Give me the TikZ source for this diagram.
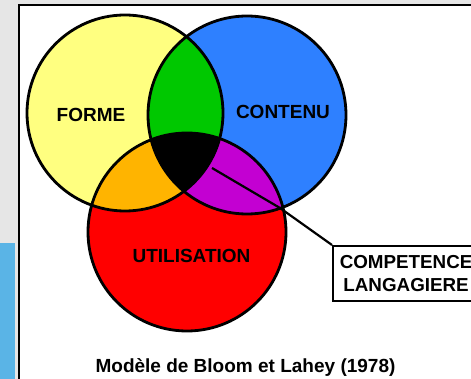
\documentclass[tikz,border=0pt]{standalone}
\usepackage{fontspec}
\setmainfont{Liberation Sans}
\definecolor{formecol}{RGB}{255,255,128}
\definecolor{contenucol}{RGB}{46,128,255}
\definecolor{usagecol}{RGB}{255,0,0}
\definecolor{vertcol}{RGB}{0,200,0}
\definecolor{orangecol}{RGB}{255,180,0}
\definecolor{violetcol}{RGB}{195,0,210}
\definecolor{fondcol}{RGB}{230,230,230}
\definecolor{barrecol}{RGB}{90,180,230}
\tikzset{
  cercle/.style={draw=black,line width=2.8pt},
  etiquette/.style={font=\bfseries\fontsize{19}{22}\selectfont},
  encadre/.style={draw=black,line width=2.2pt,fill=white,align=center,
    minimum width=146pt,minimum height=55pt,inner sep=0pt,
    font=\bfseries\fontsize{18.8}{23}\selectfont}
}
\begin{document}
\begin{tikzpicture}[x=1pt,y=-1pt]
                \useasboundingbox (0,0) rectangle (471,379);
                \clip (0,0) rectangle (471,379);
                % fond et cadre
                \fill[fondcol] (0,0) rectangle (471,379);
                \fill[barrecol] (0,243) rectangle (15,379);
                \draw[line width=2pt,fill=white] (18.5,5.5) rectangle (500,400);
                % les trois cercles
                \coordinate (forme) at (125,113);
                \coordinate (contenu) at (247,115);
                \coordinate (usage) at (187,232);
                \fill[formecol] (forme) circle (98pt);
                \fill[contenucol] (contenu) circle (99pt);
                \fill[usagecol] (usage) circle (99pt);
                \begin{scope}
                    \clip (forme) circle (98pt);
                    \fill[vertcol] (contenu) circle (99pt);
                    \fill[orangecol] (usage) circle (99pt);
                \end{scope}
                \begin{scope}
                    \clip (contenu) circle (99pt);
                    \fill[violetcol] (usage) circle (99pt);
                \end{scope}
                \begin{scope}
                    \clip (forme) circle (98pt);
                    \clip (contenu) circle (99pt);
                    \fill[black] (usage) circle (99pt);
                \end{scope}
                \draw[cercle] (forme) circle (98pt);
                \draw[cercle] (contenu) circle (99pt);
                \draw[cercle] (usage) circle (99pt);
                % textes
                \node[etiquette] (lforme) at (91,115) {FORME};
                \node[etiquette] (lcontenu) at (283,111.5) {CONTENU};
                \node[etiquette] (lusage) at (191.5,255.5) {UTILISATION};
                \node[encadre,anchor=north west] (competence) at (332,245) {COMPETENCE\\LANGAGIERE};
                \coordinate (noyau) at (212,168);
                \draw[line width=2.2pt] (noyau) -- (280,208) -- (competence.north west);
                \node[etiquette,anchor=base] (titre) at (245.5,372) {Modèle de Bloom et Lahey (1978)};
            \end{tikzpicture}
\end{document}
